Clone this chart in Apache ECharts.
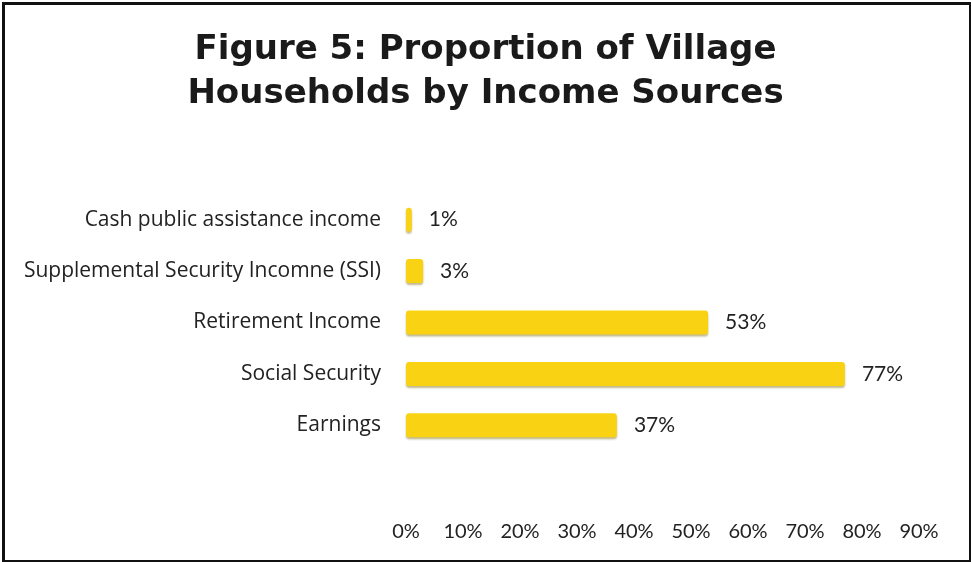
<!DOCTYPE html>
<html>
<head>
<meta charset="utf-8">
<script src="https://cdn.jsdelivr.net/npm/echarts@6/dist/echarts.min.js"></script>
<style>html,body{margin:0;padding:0;background:#fff}#c{width:971px;height:562px}</style>
</head>
<body>
<div id="c"></div>
<script>
const titleText = 'Figure 5: Proportion of Village\nHouseholds by Income Sources';
const categories = ['Cash public assistance income', 'Supplemental Security Incomne (SSI)', 'Retirement Income', 'Social Security', 'Earnings'];
const values = [1, 3, 53, 77, 37];
const axisMin = 0, axisMax = 90, axisStep = 10;

const chart = echarts.init(document.getElementById('c'));
chart.setOption({
  animation: false,
  backgroundColor: '#fff',
  title: {
    text: titleText,
    left: 'center',
    top: 23,
    textStyle: { fontFamily: 'DejaVu Sans', fontWeight: 'bold', fontSize: 34, lineHeight: 44, color: '#1a1a1a' }
  },
  graphic: [{
    type: 'rect', left: 1, top: 1, shape: { width: 967, height: 558 },
    style: { fill: 'none', stroke: '#111', lineWidth: 3 }, silent: true
  }],
  grid: { left: 406, right: 52, top: 194, height: 257, containLabel: false },
  xAxis: {
    type: 'value', min: axisMin, max: axisMax, interval: axisStep,
    axisLine: { show: false }, axisTick: { show: false }, splitLine: { show: false },
    axisLabel: { formatter: v => v + '%', margin: 71, fontFamily: 'Lato', fontSize: 20, color: '#222' }
  },
  yAxis: {
    type: 'category', data: categories, inverse: true,
    axisLine: { show: false }, axisTick: { show: false },
    axisLabel: { margin: 25, fontFamily: 'Open Sans', fontSize: 21, color: '#222', padding: [4, 0, 0, 0] }
  },
  series: [{
    type: 'bar', data: values, barWidth: 24,
    itemStyle: { color: '#F9D313', borderRadius: 3, shadowColor: 'rgba(120,100,0,0.45)', shadowOffsetY: 2, shadowBlur: 2 },
    label: { show: true, position: 'right', distance: 17, formatter: p => p.value + '%', fontFamily: 'Lato', fontSize: 21, color: '#222' }
  }]
});
</script>
</body>
</html>
